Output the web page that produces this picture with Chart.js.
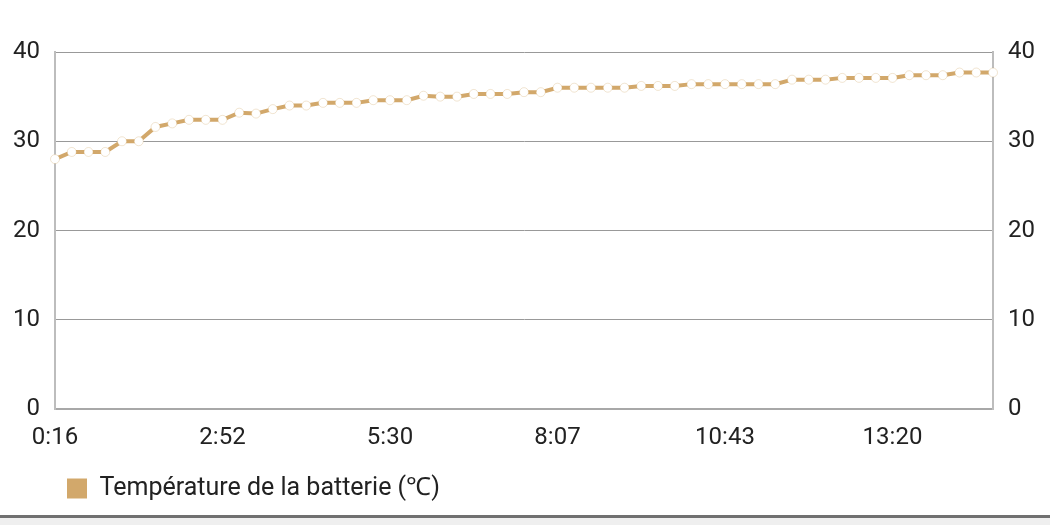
<!DOCTYPE html>
<html>
<head>
<meta charset="utf-8">
<script src="https://cdn.jsdelivr.net/npm/chart.js@4"></script>
<style>
  html, body { margin: 0; padding: 0; background: #fff; }
  #wrap { width: 1050px; height: 515px; position: relative; }
  #bar { width: 1050px; height: 7px; border-top: 3px solid #707070; background: #efefef; }
</style>
</head>
<body>
<div id="wrap"><canvas id="tempChart"></canvas></div>
<div id="bar"></div>
<script>
// time labels (one per reading)
const timeLabels = [
  '0:16', '0:32', '0:47', '1:03', '1:18', '1:34', '1:50', '2:05', '2:21', '2:36',
  '2:52', '3:08', '3:24', '3:39', '3:55', '4:11', '4:27', '4:43', '4:58', '5:14',
  '5:30', '5:46', '6:01', '6:17', '6:33', '6:49', '7:04', '7:20', '7:36', '7:51',
  '8:07', '8:23', '8:38', '8:54', '9:10', '9:25', '9:41', '9:56', '10:12', '10:28',
  '10:43', '10:59', '11:15', '11:30', '11:46', '12:02', '12:17', '12:33', '12:49', '13:04',
  '13:20', '13:36', '13:51', '14:07', '14:23', '14:38', '14:54'
];

// battery temperature (°C)
const batteryTemp = [
  28.0, 28.8, 28.8, 28.8, 30.0, 30.0, 31.6, 32.0, 32.4, 32.4,
  32.4, 33.2, 33.1, 33.6, 34.0, 34.0, 34.3, 34.3, 34.3, 34.6,
  34.6, 34.6, 35.1, 35.0, 35.0, 35.3, 35.3, 35.3, 35.5, 35.5,
  36.0, 36.0, 36.0, 36.0, 36.0, 36.2, 36.2, 36.2, 36.4, 36.4,
  36.4, 36.4, 36.4, 36.4, 36.9, 36.9, 36.9, 37.1, 37.1, 37.1,
  37.1, 37.4, 37.4, 37.4, 37.7, 37.7, 37.7
];

const seriesName = 'Température de la batterie (℃)';
const yTicks = [0, 10, 20, 30, 40];

const tan = '#d2a86b';
const textColor = '#222';
const tickFont = { family: 'Roboto', size: 24 };

// move legend to the right a bit, like the original
const legendShift = {
  id: 'legendShift',
  afterLayout(chart) {
    chart.legend.left = 57;
  }
};

const ctx = document.getElementById('tempChart').getContext('2d');
const tempChart = new Chart(ctx, {
  type: 'line',
  data: {
    labels: timeLabels,
    datasets: [{
      label: seriesName,
      data: batteryTemp,
      borderColor: tan,
      backgroundColor: tan,
      borderWidth: 4,
      pointRadius: 4.5,
      pointBackgroundColor: '#fff',
      pointBorderColor: 'rgba(210,168,107,0.3)',
      pointBorderWidth: 1,
      tension: 0,
      fill: false,
      yAxisID: 'y'
    }]
  },
  options: {
    responsive: true,
    maintainAspectRatio: false,
    animation: false,
    layout: { padding: { top: 52, bottom: 4, left: 0, right: 0 } },
    plugins: {
      legend: {
        position: 'bottom',
        align: 'start',
        labels: {
          boxWidth: 20,
          boxHeight: 20,
          padding: 10,
          color: textColor,
          font: { family: 'Roboto', size: 25 },
          generateLabels(chart) {
            const items = Chart.defaults.plugins.legend.labels.generateLabels(chart);
            items.forEach(it => { it.lineWidth = 0; it.fillStyle = tan; });
            return items;
          }
        }
      },
      tooltip: { enabled: false }
    },
    scales: {
      x: {
        grid: { display: false, drawTicks: false },
        border: { display: true, color: '#a8a8a8', width: 2 },
        ticks: {
          autoSkip: false,
          maxRotation: 0,
          padding: 15,
          color: textColor,
          font: tickFont,
          callback(val, i) { return i % 10 === 0 ? timeLabels[i] : null; }
        },
        afterFit(scale) { scale.height = 57; }
      },
      y: {
        position: 'left',
        min: 0,
        max: 40,
        grid: { color: '#999', lineWidth: 1, drawTicks: false },
        border: { display: true, color: '#bdbdbd', width: 2 },
        ticks: {
          stepSize: 10,
          padding: 15,
          color: textColor,
          font: tickFont,
          callback: v => yTicks.includes(v) ? v : null
        },
        afterFit(scale) { scale.width = 55; }
      },
      y2: {
        position: 'right',
        min: 0,
        max: 40,
        grid: { display: false, drawTicks: false },
        border: { display: true, color: '#bdbdbd', width: 2 },
        ticks: {
          stepSize: 10,
          padding: 15,
          color: textColor,
          font: tickFont,
          callback: v => yTicks.includes(v) ? v : null
        },
        afterFit(scale) { scale.width = 57; }
      }
    }
  },
  plugins: [legendShift]
});
</script>
</body>
</html>
